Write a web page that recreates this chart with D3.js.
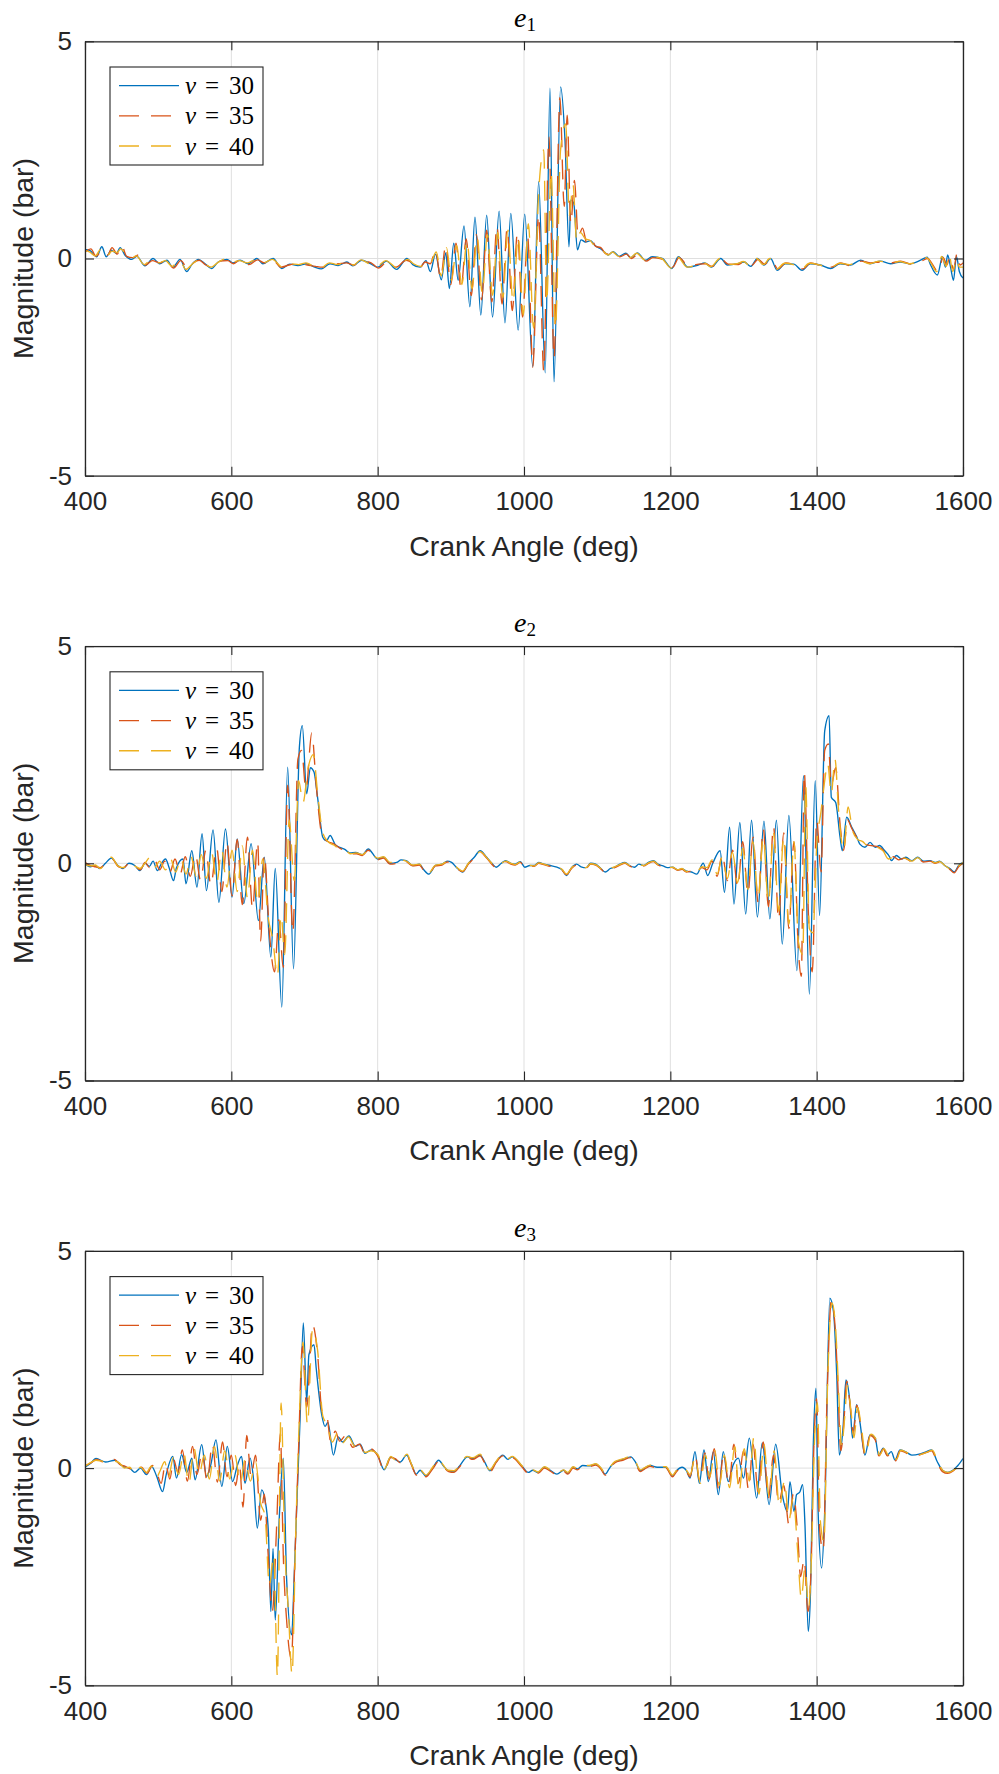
<!DOCTYPE html>
<html><head><meta charset="utf-8">
<script src="https://cdn.jsdelivr.net/npm/d3@7"></script>
<style>
html,body{margin:0;padding:0;background:#fff;}
svg{display:block;}
</style></head><body>
<svg id="chart" width="999" height="1774"></svg>
<script>
// ---------- DATA ([crank angle deg, magnitude bar]) ----------
const angleTicks = [400, 600, 800, 1000, 1200, 1400, 1600];
const magnitudeTicks = [-5, 0, 5];
const nuValues = [30, 35, 40];
const panelIndices = [1, 2, 3];

const e1_nu30 = [[400,0.21],[407,0.18],[416,0.04],[423,0.27],[429,0.04],[436,0.19],[443,0.12],[448,0.25],[455,0.07],[464,-0.02],[471,0.05],[482,-0.17],[493,0],[502,-0.12],[512,-0.04],[520,-0.2],[530,-0.02],[539,-0.3],[546,-0.14],[555,-0.02],[564,-0.12],[573,-0.23],[582,-0.08],[594,-0.02],[602,-0.1],[612,-0.04],[623,-0.12],[635,0],[643,-0.12],[657,0],[669,-0.23],[680,-0.13],[691,-0.16],[703,-0.12],[714,-0.2],[723,-0.24],[735,-0.12],[746,-0.16],[758,-0.08],[766,-0.17],[778,-0.04],[790,-0.12],[800,-0.2],[812,-0.06],[826,-0.25],[840,0],[848,-0.14],[858,-0.2],[866,-0.05],[872,-0.3],[879,0.1],[887,-0.49],[893,0.13],[898,-0.69],[904,0.35],[910,-0.5],[918,0.75],[926,-1.11],[933,0.95],[941,-1.3],[949,1.0],[957,-1.35],[966,1.09],[974,-1.48],[982,1.04],[992,-1.65],[1001,1.02],[1012,-2.49],[1020,1.77],[1029,-2.63],[1035.5,3.92],[1041,-2.84],[1050,3.95],[1056,2.73],[1061.5,0.27],[1064,1.35],[1068,1.27],[1073,0.2],[1078,0.43],[1084,0.38],[1091,0.41],[1097,0.3],[1104,0.23],[1110,0.15],[1115,0.08],[1122,0.16],[1130,0.05],[1139,0.12],[1146,0.02],[1155,0.13],[1166,-0.04],[1175,0.04],[1189,0],[1202,-0.23],[1211,0.04],[1224,-0.2],[1238,-0.15],[1247,-0.1],[1256,-0.2],[1269,0],[1278,-0.15],[1292,-0.12],[1301,-0.08],[1310,-0.18],[1319,0],[1328,-0.15],[1337,0],[1346,-0.27],[1357,-0.12],[1369,-0.13],[1380,-0.27],[1391,-0.12],[1405,-0.15],[1419,-0.23],[1432,-0.12],[1446,-0.15],[1460,-0.04],[1473,-0.12],[1487,-0.06],[1501,-0.12],[1514,-0.08],[1528,-0.12],[1542,-0.04],[1551,0.03],[1555,-0.12],[1565,-0.38],[1572,0.04],[1576,-0.2],[1579,0.08],[1583,-0.2],[1587,-0.5],[1591,0.05],[1595,-0.3],[1600,-0.45]];
const e1_nu35 = [[400,0.15],[408,0.22],[415,0.05],[424,0.2],[431,0.08],[437,0.25],[444,0.1],[450,0.3],[457,0.05],[465,0.02],[473,0.08],[483,-0.15],[492,-0.05],[503,-0.1],[511,-0.02],[521,-0.22],[531,-0.05],[540,-0.22],[548,-0.1],[556,-0.04],[565,-0.15],[574,-0.2],[583,-0.06],[595,-0.05],[603,-0.12],[613,-0.02],[624,-0.14],[636,-0.03],[645,-0.1],[656,-0.02],[668,-0.2],[679,-0.15],[692,-0.12],[704,-0.15],[715,-0.18],[724,-0.2],[736,-0.14],[747,-0.12],[757,-0.1],[767,-0.15],[779,-0.06],[791,-0.1],[801,-0.22],[813,-0.08],[825,-0.2],[839,-0.04],[849,-0.12],[857,-0.22],[865,-0.08],[872,-0.12],[879,0.2],[886,-0.45],[893,0.3],[900,-0.6],[907,0.35],[914,-0.7],[921,0.45],[928,-0.85],[935,0.55],[942,-0.95],[949,0.65],[956,-1.0],[963,0.75],[970,-1.05],[977,0.7],[984,-1.2],[991,0.6],[998,-1.35],[1005,0.5],[1012,-2.5],[1020,1.0],[1027,-2.6],[1034,2.8],[1041,-2.3],[1049,3.7],[1055,1.2],[1059,3.3],[1064,0.8],[1069,1.8],[1074,0.5],[1080,0.7],[1086,0.35],[1092,0.45],[1098,0.28],[1105,0.25],[1111,0.12],[1116,0.1],[1123,0.14],[1131,0.04],[1140,0.1],[1147,0.0],[1156,0.1],[1167,-0.06],[1176,0.02],[1190,-0.02],[1203,-0.2],[1212,0.02],[1225,-0.18],[1239,-0.13],[1248,-0.12],[1257,-0.18],[1270,-0.02],[1279,-0.13],[1293,-0.14],[1302,-0.06],[1311,-0.16],[1320,-0.02],[1329,-0.13],[1338,-0.02],[1347,-0.24],[1358,-0.1],[1370,-0.15],[1381,-0.24],[1392,-0.1],[1406,-0.17],[1420,-0.2],[1433,-0.1],[1447,-0.17],[1461,-0.06],[1474,-0.1],[1488,-0.08],[1502,-0.1],[1515,-0.06],[1529,-0.13],[1543,-0.06],[1552,0.0],[1557,-0.1],[1566,-0.3],[1573,0.02],[1578,-0.15],[1582,0.05],[1587,-0.25],[1592,0.12],[1596,-0.15],[1600,-0.1]];
const e1_nu40 = [[400,0.18],[406,0.15],[414,0.06],[422,0.22],[430,0.06],[437,0.17],[444,0.14],[449,0.22],[456,0.08],[463,0.0],[470,0.06],[481,-0.14],[491,-0.02],[501,-0.1],[510,-0.05],[519,-0.18],[529,-0.04],[538,-0.25],[547,-0.12],[556,-0.03],[563,-0.1],[572,-0.2],[581,-0.1],[593,0.0],[601,-0.08],[611,-0.05],[622,-0.1],[634,-0.02],[644,-0.1],[656,-0.02],[670,-0.2],[681,-0.12],[692,-0.14],[702,-0.1],[713,-0.18],[722,-0.22],[734,-0.1],[745,-0.14],[757,-0.06],[767,-0.15],[777,-0.03],[789,-0.13],[799,-0.18],[811,-0.05],[827,-0.22],[841,-0.02],[849,-0.12],[859,-0.18],[866,-0.06],[872,-0.1],[880,0.15],[887,-0.4],[894,0.25],[901,-0.5],[908,0.3],[915,-0.6],[922,0.4],[929,-0.7],[936,0.5],[943,-0.8],[950,0.55],[957,-0.85],[964,0.6],[971,-0.9],[978,0.65],[985,-1.0],[992,0.5],[999,-1.3],[1006,0.8],[1013,-1.6],[1020,1.5],[1027,2.5],[1031,-1.0],[1037,2.0],[1043,-1.6],[1050,2.5],[1057,3.1],[1062,1.0],[1067,1.7],[1072,0.4],[1077,0.6],[1084,0.45],[1090,0.42],[1096,0.3],[1103,0.24],[1109,0.16],[1115,0.08],[1121,0.15],[1129,0.05],[1138,0.12],[1145,0.02],[1154,0.12],[1165,-0.03],[1174,0.04],[1188,0.0],[1201,-0.22],[1210,0.03],[1223,-0.2],[1237,-0.14],[1246,-0.1],[1255,-0.19],[1268,0.0],[1277,-0.14],[1291,-0.12],[1300,-0.07],[1309,-0.17],[1318,0.0],[1327,-0.14],[1336,0.0],[1345,-0.25],[1356,-0.11],[1368,-0.14],[1379,-0.25],[1390,-0.11],[1404,-0.15],[1418,-0.22],[1431,-0.11],[1445,-0.14],[1459,-0.05],[1472,-0.12],[1486,-0.06],[1500,-0.11],[1513,-0.07],[1527,-0.12],[1541,-0.05],[1550,0.02],[1556,-0.1],[1564,-0.3],[1571,0.05],[1577,-0.18],[1581,0.1],[1586,-0.3],[1591,0.0],[1595,-0.2],[1600,-0.2]];

const e2_nu30 = [[400,0.0],[407,-0.08],[414,-0.05],[420,-0.12],[428,0.0],[436,0.12],[445,-0.05],[452,-0.12],[460,0.0],[468,-0.05],[475,-0.17],[482,0.0],[488,-0.07],[493,0.05],[499,-0.17],[504,-0.02],[510,0.1],[515,-0.1],[521,-0.4],[525,-0.1],[534,0.1],[538,-0.47],[546,0.29],[553,-0.55],[560,0.68],[566,-0.63],[575,0.77],[583,-0.9],[592,0.79],[601,-0.78],[608,0.56],[617,-0.93],[627,0.45],[637,-1.32],[645,0.14],[654,-2.16],[660,-0.12],[669,-3.31],[677,2.21],[685,-2.43],[693,2.67],[697,3.17],[703,1.6],[708,2.2],[713,2.1],[718,1.5],[725,0.6],[730,0.52],[735,0.64],[742,0.43],[749,0.36],[755,0.32],[762,0.24],[770,0.25],[779,0.2],[787,0.33],[800,0.1],[808,0.14],[817,0.0],[826,0.02],[832,0.08],[839,0.06],[848,-0.05],[857,-0.02],[863,-0.15],[870,-0.25],[879,-0.05],[888,-0.02],[895,0.05],[901,0.02],[908,-0.1],[916,-0.2],[924,0.0],[932,0.14],[940,0.29],[949,0.14],[956,0.0],[962,-0.09],[969,0.0],[975,0.06],[982,0.0],[988,-0.02],[995,0.04],[1001,-0.09],[1008,-0.05],[1014,-0.05],[1020,0.02],[1027,-0.02],[1036,-0.05],[1045,-0.09],[1052,-0.15],[1058,-0.28],[1065,-0.1],[1072,-0.02],[1078,-0.08],[1085,-0.1],[1091,0.0],[1098,-0.02],[1105,-0.12],[1111,-0.2],[1118,-0.12],[1124,-0.09],[1131,-0.02],[1138,0.02],[1144,-0.05],[1151,-0.09],[1157,-0.02],[1164,-0.05],[1170,0.02],[1177,0.06],[1183,-0.02],[1190,-0.06],[1196,-0.1],[1203,-0.09],[1210,-0.15],[1216,-0.13],[1222,-0.18],[1229,-0.2],[1236,-0.25],[1245,0.0],[1251,-0.28],[1258,0.0],[1268,0.29],[1274,-0.67],[1281,0.83],[1287,-0.94],[1295,0.94],[1303,-1.17],[1311,0.99],[1319,-1.24],[1328,0.97],[1336,-1.28],[1345,0.99],[1353,-1.86],[1362,1.1],[1373,-2.47],[1382,2.02],[1390,-3.01],[1398,1.9],[1404,-1.2],[1411,3.05],[1417,3.4],[1420,1.52],[1426,1.4],[1432,0.6],[1435,0.29],[1441,1.06],[1448,0.83],[1455,0.6],[1459,0.44],[1466,0.37],[1473,0.48],[1480,0.37],[1486,0.41],[1493,0.29],[1500,0.14],[1502,0.06],[1509,0.18],[1516,0.1],[1522,0.14],[1530,0.06],[1538,0.14],[1546,0.05],[1555,0.06],[1562,0.02],[1568,0.05],[1575,-0.05],[1582,-0.12],[1588,-0.2],[1594,-0.05],[1600,0.02]];
const e2_nu35 = [[400,0.02],[407,-0.05],[414,-0.08],[421,-0.1],[429,0.02],[437,0.1],[446,-0.08],[453,-0.1],[461,0.02],[469,-0.08],[476,-0.15],[482,0.02],[488,-0.1],[495,0.08],[502,-0.15],[509,0.05],[516,-0.2],[523,0.1],[530,-0.25],[537,0.15],[544,-0.3],[551,0.2],[558,-0.4],[565,0.3],[572,-0.5],[580,0.35],[587,-0.65],[594,0.5],[601,-0.75],[608,0.55],[615,-0.95],[622,0.6],[629,-1.05],[636,0.5],[640,-1.8],[645,0.2],[652,-1.6],[659,-2.5],[665,-1.3],[671,-2.4],[677,1.8],[684,-1.6],[691,2.4],[696,2.6],[702,1.7],[710,3.0],[716,1.8],[724,0.65],[732,0.5],[740,0.45],[750,0.33],[757,0.3],[763,0.22],[771,0.22],[779,0.18],[787,0.3],[800,0.08],[808,0.12],[817,-0.02],[826,0.0],[832,0.06],[839,0.04],[848,-0.06],[857,-0.04],[863,-0.16],[870,-0.24],[879,-0.06],[888,-0.04],[895,0.03],[901,0.0],[908,-0.11],[916,-0.19],[924,-0.02],[932,0.12],[940,0.26],[949,0.12],[956,-0.02],[962,-0.1],[969,-0.02],[975,0.04],[982,-0.02],[988,-0.04],[995,0.02],[1001,-0.1],[1008,-0.06],[1014,-0.07],[1020,0.0],[1027,-0.03],[1036,-0.07],[1045,-0.1],[1052,-0.16],[1058,-0.26],[1065,-0.12],[1072,-0.04],[1078,-0.09],[1085,-0.11],[1091,-0.02],[1098,-0.04],[1105,-0.13],[1111,-0.21],[1118,-0.13],[1124,-0.1],[1131,-0.04],[1138,0.0],[1144,-0.06],[1151,-0.1],[1157,-0.04],[1164,-0.06],[1170,0.0],[1177,0.04],[1183,-0.04],[1190,-0.08],[1196,-0.12],[1203,-0.1],[1210,-0.16],[1216,-0.14],[1222,-0.2],[1229,-0.18],[1236,-0.22],[1243,-0.1],[1250,-0.15],[1257,0.05],[1264,-0.3],[1271,0.2],[1278,-0.4],[1285,0.3],[1292,-0.55],[1299,0.5],[1306,-0.7],[1313,0.6],[1320,-0.9],[1327,0.8],[1334,-1.0],[1341,0.85],[1348,-1.3],[1355,0.7],[1362,-1.5],[1369,0.5],[1375,-2.0],[1379,-2.6],[1383,2.1],[1389,-1.3],[1394,-2.5],[1400,1.0],[1406,-0.2],[1411,2.6],[1416,2.75],[1420,1.8],[1426,2.2],[1432,0.9],[1437,0.3],[1442,1.0],[1448,0.8],[1455,0.6],[1462,0.5],[1470,0.42],[1477,0.4],[1484,0.38],[1491,0.3],[1498,0.12],[1505,0.15],[1512,0.08],[1520,0.12],[1530,0.04],[1538,0.12],[1546,0.03],[1555,0.05],[1562,0.0],[1568,0.03],[1575,-0.06],[1582,-0.14],[1588,-0.22],[1594,-0.08],[1600,0.0]];
const e2_nu40 = [[400,-0.02],[407,-0.06],[414,-0.04],[421,-0.12],[428,0.02],[436,0.14],[445,-0.06],[452,-0.1],[460,0.02],[468,-0.06],[475,-0.12],[482,0.0],[488,0.12],[495,-0.1],[502,0.05],[510,-0.15],[517,0.1],[524,-0.2],[531,0.12],[538,-0.25],[545,0.15],[552,-0.3],[559,0.2],[566,-0.35],[573,0.25],[580,-0.45],[587,0.3],[594,-0.55],[601,0.3],[608,-0.65],[615,0.4],[622,-0.8],[629,0.3],[636,-0.9],[643,0.1],[650,-1.2],[657,-1.8],[663,-2.6],[668,-1.2],[673,-2.1],[679,1.0],[686,-0.4],[692,1.9],[698,1.4],[705,2.2],[712,2.5],[718,1.6],[725,0.7],[732,0.5],[740,0.42],[750,0.3],[757,0.28],[763,0.22],[771,0.24],[779,0.2],[787,0.3],[800,0.12],[808,0.15],[817,0.02],[826,0.03],[832,0.08],[839,0.05],[848,-0.04],[857,-0.02],[863,-0.14],[870,-0.22],[879,-0.04],[888,-0.02],[895,0.04],[901,0.02],[908,-0.09],[916,-0.18],[924,0.0],[932,0.13],[940,0.27],[949,0.13],[956,0.0],[962,-0.08],[969,0.0],[975,0.05],[982,0.0],[988,-0.03],[995,0.03],[1001,-0.08],[1008,-0.05],[1014,-0.06],[1020,0.01],[1027,-0.02],[1036,-0.06],[1045,-0.08],[1052,-0.14],[1058,-0.25],[1065,-0.1],[1072,-0.03],[1078,-0.08],[1085,-0.1],[1091,-0.01],[1098,-0.03],[1105,-0.12],[1111,-0.19],[1118,-0.12],[1124,-0.08],[1131,-0.03],[1138,0.01],[1144,-0.05],[1151,-0.09],[1157,-0.03],[1164,-0.05],[1170,0.01],[1177,0.05],[1183,-0.03],[1190,-0.07],[1196,-0.11],[1203,-0.09],[1210,-0.15],[1216,-0.12],[1222,-0.19],[1229,-0.16],[1236,-0.2],[1243,-0.08],[1250,-0.1],[1257,0.08],[1264,-0.25],[1271,0.15],[1278,-0.35],[1285,0.25],[1292,-0.45],[1299,0.35],[1306,-0.6],[1313,0.5],[1320,-0.8],[1327,0.6],[1334,-0.9],[1341,0.7],[1348,-1.1],[1355,0.6],[1362,-1.4],[1369,0.5],[1375,-1.8],[1381,-2.1],[1385,1.8],[1390,-1.5],[1395,-1.6],[1400,0.4],[1406,1.2],[1411,1.9],[1415,2.3],[1420,1.6],[1425,2.4],[1430,1.2],[1437,0.3],[1443,1.3],[1449,0.75],[1456,0.55],[1463,0.5],[1470,0.4],[1477,0.42],[1484,0.36],[1491,0.28],[1498,0.1],[1505,0.14],[1512,0.1],[1520,0.12],[1530,0.05],[1538,0.13],[1546,0.04],[1555,0.06],[1562,0.01],[1568,0.04],[1575,-0.05],[1582,-0.13],[1588,-0.18],[1594,-0.06],[1600,0.02]];

const e3_nu30 = [[400,0.02],[407,0.1],[415,0.22],[428,0.14],[441,0.18],[447,0.1],[454,0.02],[461,0.0],[468,-0.1],[476,0.0],[484,-0.15],[491,0.04],[498,-0.19],[506,-0.54],[511,-0.15],[520,0.27],[525,-0.23],[532,0.31],[539,-0.1],[546,0.23],[550.5,-0.27],[559.5,0.54],[566,-0.19],[572,0.08],[579,0.65],[587,-0.42],[594.5,0.5],[601.7,-0.31],[608,0.05],[614,0.27],[618.7,-0.35],[625.6,0.23],[630,-0.2],[635.5,-1.38],[641.5,-0.5],[646,-0.73],[650.6,-1.45],[654,-3.3],[657,-1.85],[660,-3.5],[665.5,-1.15],[671,0.23],[675.5,-2.53],[682.4,-3.84],[686,-2.46],[690,-0.61],[694,1.15],[698.4,3.34],[703,1.53],[706,2.61],[713,2.84],[716,2.3],[723.5,1.23],[728,0.96],[732,1.05],[739.5,0.3],[746,0.72],[752,0.6],[760.8,0.74],[769.6,0.5],[776,0.55],[782.7,0.34],[791,0.42],[800,0.3],[808.9,-0.04],[817.7,0.26],[824,0.2],[830.8,0.14],[839.5,0.3],[846,0.1],[852.7,-0.14],[858,-0.05],[865.8,-0.18],[875,0.0],[883.4,0.18],[890,0.05],[896.5,-0.06],[904,-0.08],[912,0.05],[922.7,0.26],[930,0.22],[940,0.3],[946,0.15],[953.4,-0.06],[962,0.15],[971,0.3],[978,0.2],[984,0.26],[997,0.05],[1005.9,-0.1],[1012,-0.05],[1019,-0.1],[1027.7,0.02],[1036,-0.05],[1045,-0.14],[1054,-0.05],[1060,-0.12],[1067,0.02],[1073,-0.02],[1080,0.06],[1089,0.05],[1098,0.09],[1105,0.0],[1110.8,-0.14],[1117,0.0],[1124,0.14],[1135,0.2],[1146,0.26],[1152,0.15],[1159,-0.06],[1165,0.0],[1172.4,0.06],[1182,0.02],[1194,0.02],[1202.8,-0.18],[1209,-0.05],[1216,0.02],[1222,-0.06],[1227,-0.23],[1233.7,0.38],[1239.7,-0.35],[1246,0.42],[1252,-0.31],[1258.7,0.38],[1265.6,-0.61],[1272.4,0.38],[1279,-0.31],[1286,0.08],[1293,0.23],[1300,-0.23],[1308,0.69],[1318,-0.69],[1325.6,0.58],[1335,-0.84],[1344,0.55],[1353,-0.61],[1360,-1.0],[1363.5,-0.31],[1369,-1.0],[1372.5,-0.61],[1377,-0.55],[1380.8,-0.38],[1384,-1.3],[1388.5,-3.76],[1391.6,-2.84],[1395.4,0.54],[1399,1.84],[1402,-1.0],[1406.8,-2.3],[1411,-1.0],[1418,3.91],[1423,3.6],[1427.4,2.15],[1431,0.3],[1436,0.92],[1440,2.03],[1445.7,1.46],[1449,0.69],[1454.6,1.46],[1459,1.07],[1466,0.3],[1473,0.77],[1480,0.69],[1484.7,0.3],[1491,0.46],[1496.5,0.3],[1502,0.38],[1507,0.19],[1514,0.42],[1521,0.38],[1530,0.3],[1540,0.32],[1550,0.38],[1557,0.42],[1565,0.14],[1572,-0.05],[1579,-0.1],[1586,-0.05],[1593,0.06],[1600,0.22]];
const e3_nu35 = [[400,0.05],[408,0.12],[416,0.2],[428,0.12],[440,0.2],[448,0.08],[455,0.04],[462,-0.02],[469,-0.08],[477,0.02],[485,-0.12],[492,0.06],[499,-0.15],[504,-0.35],[510,0.1],[516,-0.25],[521,0.2],[527,-0.1],[533,0.42],[540,-0.3],[547,0.5],[553,-0.15],[560,0.35],[567,-0.3],[574,0.55],[581,-0.32],[588,0.6],[594,-0.2],[600,0.3],[606,-0.4],[611,0.1],[616,-0.9],[621,0.75],[627,-0.2],[633,0.3],[640,-1.2],[645,-0.6],[650,-1.9],[656,-3.3],[662,-1.3],[667,0.8],[671,-2.0],[676,-3.6],[682,-4.4],[687,-2.0],[692,0.5],[697,2.8],[703,1.4],[711,3.3],[718,2.6],[724,1.3],[730,1.25],[736,0.6],[742,0.85],[748,0.62],[757,0.76],[766,0.48],[775,0.55],[783,0.32],[791,0.44],[800,0.28],[809,-0.06],[818,0.24],[824,0.22],[831,0.12],[840,0.28],[846,0.08],[853,-0.16],[858,-0.07],[866,-0.2],[875,-0.02],[884,0.16],[890,0.03],[897,-0.08],[904,-0.1],[912,0.03],[923,0.24],[930,0.2],[940,0.28],[946,0.13],[954,-0.08],[962,0.13],[971,0.28],[978,0.18],[984,0.24],[997,0.03],[1006,-0.12],[1012,-0.07],[1019,-0.12],[1028,0.0],[1036,-0.07],[1045,-0.16],[1054,-0.07],[1060,-0.14],[1067,0.0],[1073,-0.04],[1080,0.04],[1089,0.03],[1098,0.07],[1105,-0.02],[1111,-0.16],[1117,-0.02],[1124,0.12],[1135,0.18],[1146,0.24],[1152,0.13],[1159,-0.08],[1165,-0.02],[1172,0.04],[1182,0.0],[1194,0.0],[1203,-0.2],[1209,-0.07],[1216,0.0],[1222,-0.08],[1227,-0.2],[1234,0.3],[1240,-0.3],[1247,0.35],[1253,-0.25],[1260,0.45],[1266,-0.5],[1273,0.35],[1280,-0.4],[1287,0.55],[1293,-0.35],[1300,0.4],[1307,-0.5],[1313,0.55],[1320,-0.55],[1327,0.6],[1334,-0.7],[1341,0.3],[1348,-0.8],[1355,-0.4],[1362,-1.3],[1368,-0.6],[1374,-1.5],[1378,-2.5],[1383,-2.1],[1388,-3.3],[1392,-2.5],[1396,0.4],[1400,1.6],[1404,-1.4],[1409,-1.9],[1414,1.5],[1420,3.85],[1425,3.3],[1429,1.9],[1433,0.4],[1437,1.0],[1441,2.0],[1446,1.4],[1450,0.8],[1455,1.45],[1460,1.0],[1466,0.3],[1473,0.75],[1480,0.65],[1485,0.28],[1491,0.44],[1497,0.28],[1502,0.36],[1508,0.17],[1514,0.4],[1521,0.36],[1530,0.28],[1540,0.3],[1550,0.36],[1557,0.4],[1565,0.12],[1572,-0.08],[1579,-0.12],[1586,-0.07],[1593,0.04],[1600,0.2]];
const e3_nu40 = [[400,0.04],[407,0.12],[415,0.18],[427,0.15],[440,0.16],[447,0.12],[454,0.0],[461,0.02],[468,-0.12],[476,0.02],[484,-0.1],[491,0.05],[498,-0.2],[503,-0.05],[509,0.15],[514,-0.2],[521,0.25],[528,-0.15],[535,0.35],[542,-0.35],[549,0.45],[556,-0.15],[563,0.3],[570,-0.25],[577,0.5],[584,-0.3],[591,0.4],[598,-0.25],[605,0.3],[612,-0.35],[619,0.2],[626,-0.3],[633,0.15],[640,-0.8],[646,-1.1],[652,-2.7],[658,-2.0],[663,-4.8],[668,1.5],[673,-1.8],[678,-3.3],[683,-4.75],[688,-1.5],[693,1.2],[698,2.9],[704,1.0],[711,3.2],[718,2.7],[725,1.2],[731,1.0],[738,0.6],[745,0.8],[752,0.58],[760,0.72],[769,0.5],[776,0.52],[783,0.36],[791,0.4],[800,0.32],[809,-0.02],[818,0.27],[824,0.18],[831,0.15],[840,0.32],[846,0.1],[853,-0.12],[858,-0.04],[866,-0.16],[875,0.02],[883,0.2],[890,0.06],[896,-0.05],[904,-0.06],[912,0.06],[922,0.27],[930,0.24],[940,0.32],[946,0.16],[953,-0.04],[962,0.16],[971,0.32],[978,0.22],[984,0.27],[997,0.06],[1006,-0.08],[1012,-0.04],[1019,-0.09],[1028,0.03],[1036,-0.04],[1045,-0.12],[1054,-0.04],[1060,-0.1],[1067,0.03],[1073,-0.01],[1080,0.07],[1089,0.06],[1098,0.1],[1105,0.01],[1111,-0.12],[1117,0.01],[1124,0.15],[1135,0.21],[1146,0.27],[1152,0.16],[1159,-0.04],[1165,0.01],[1172,0.07],[1182,0.03],[1194,0.03],[1203,-0.16],[1209,-0.04],[1216,0.03],[1222,-0.05],[1227,-0.15],[1234,0.25],[1241,-0.35],[1248,0.3],[1254,-0.2],[1261,0.4],[1267,-0.4],[1274,0.3],[1281,-0.45],[1288,0.5],[1294,-0.55],[1301,0.45],[1308,-0.3],[1314,0.7],[1321,-0.6],[1328,0.55],[1335,-0.65],[1342,0.4],[1349,-0.9],[1356,-0.3],[1362,-1.2],[1368,-0.7],[1374,-1.9],[1379,-3.0],[1384,-2.3],[1389,-3.2],[1393,-2.0],[1397,0.6],[1401,1.5],[1405,-1.2],[1410,-1.7],[1415,2.0],[1421,3.8],[1426,3.2],[1430,1.8],[1434,0.5],[1438,1.1],[1442,1.9],[1447,1.3],[1451,0.7],[1456,1.4],[1461,0.95],[1467,0.3],[1474,0.78],[1481,0.67],[1486,0.3],[1492,0.45],[1498,0.3],[1503,0.37],[1509,0.2],[1515,0.41],[1522,0.37],[1531,0.29],[1541,0.31],[1551,0.37],[1558,0.41],[1566,0.13],[1573,-0.06],[1580,-0.1],[1587,-0.05],[1594,0.05],[1600,0.21]];

// ---------- STYLE / LAYOUT ----------
const panelSeries = [[e1_nu30, e1_nu35, e1_nu40], [e2_nu30, e2_nu35, e2_nu40], [e3_nu30, e3_nu35, e3_nu40]];
const colors = ["#0072BD", "#D95319", "#EDB120"];
const dashArr = [null, "20,12", "20,12"];
const L = 85, R = 963, PH = 434.4;
const tops = [41.3, 646.1, 1250.9];
const ink = "#262626";
const sans = "'Liberation Sans', Arial, Helvetica, sans-serif";
const serif = "'Liberation Serif', 'Times New Roman', serif";

const svg = d3.select("#chart");
const x = d3.scaleLinear().domain([angleTicks[0], angleTicks[angleTicks.length - 1]]).range([L, R]);
const y = d3.scaleLinear().domain([magnitudeTicks[0], magnitudeTicks[magnitudeTicks.length - 1]]).range([PH, 0]);
const line = d3.line().x(d => x(d[0])).y(d => y(d[1])).curve(d3.curveMonotoneX);

svg.append("defs").append("clipPath").attr("id", "plotclip")
  .append("rect").attr("x", L).attr("y", 0).attr("width", R - L).attr("height", PH);

panelIndices.forEach((pi, i) => {
  const g = svg.append("g").attr("transform", `translate(0,${tops[i]})`);

  // grid
  const grid = g.append("g");
  grid.selectAll("line.vg").data(angleTicks).join("line")
    .attr("x1", d => x(d)).attr("x2", d => x(d)).attr("y1", 0).attr("y2", PH)
    .attr("stroke", "#dfdfdf").attr("stroke-width", 1);
  grid.selectAll("line.hg").data(magnitudeTicks).join("line")
    .attr("x1", L).attr("x2", R).attr("y1", d => y(d)).attr("y2", d => y(d))
    .attr("stroke", "#dfdfdf").attr("stroke-width", 1);

  // series
  const lines = g.append("g").attr("clip-path", "url(#plotclip)");
  panelSeries[i].forEach((s, k) => {
    lines.append("path").datum(s).attr("d", line)
      .attr("fill", "none").attr("stroke", colors[k]).attr("stroke-width", 1.35)
      .attr("stroke-linejoin", "round")
      .attr("stroke-dasharray", dashArr[k]);
  });

  // axes
  const styleAxis = sel => {
    sel.select(".domain").attr("stroke", ink).attr("stroke-width", 1.3);
    sel.selectAll(".tick line").attr("stroke", ink).attr("stroke-width", 1.1);
    sel.selectAll(".tick text").attr("fill", ink).attr("font-family", sans).attr("font-size", 26);
  };
  g.append("g").attr("transform", `translate(0,${PH})`)
    .call(d3.axisBottom(x).tickValues(angleTicks).tickSizeInner(-9).tickSizeOuter(0).tickPadding(16).tickFormat(d => String(d)))
    .call(styleAxis);
  g.append("g")
    .call(d3.axisTop(x).tickValues(angleTicks).tickSizeInner(-9).tickSizeOuter(0).tickFormat(""))
    .call(styleAxis);
  g.append("g").attr("transform", `translate(${L},0)`)
    .call(d3.axisLeft(y).tickValues(magnitudeTicks).tickSizeInner(-9).tickSizeOuter(0).tickPadding(13).tickFormat(d => String(d)))
    .call(styleAxis);
  g.append("g").attr("transform", `translate(${R},0)`)
    .call(d3.axisRight(y).tickValues(magnitudeTicks).tickSizeInner(-9).tickSizeOuter(0).tickFormat(""))
    .call(styleAxis);

  // axis titles
  g.append("text").attr("x", (L + R) / 2).attr("y", PH + 80)
    .attr("text-anchor", "middle").attr("font-family", sans).attr("font-size", 28.5).attr("fill", ink)
    .text("Crank Angle (deg)");
  g.append("text").attr("transform", `translate(33,${PH / 2}) rotate(-90)`)
    .attr("text-anchor", "middle").attr("font-family", sans).attr("font-size", 28.5).attr("fill", ink)
    .text("Magnitude (bar)");

  // title e_i
  const t = g.append("text").attr("x", (L + R) / 2 - 10).attr("y", -14)
    .attr("font-family", serif).attr("font-size", 28).attr("fill", "#000");
  t.append("tspan").attr("font-style", "italic").text("e");
  t.append("tspan").attr("font-size", 19).attr("dy", 4).text(String(pi));

  // legend
  const lg = g.append("g").attr("transform", `translate(${L + 25},25.7)`);
  lg.append("rect").attr("x", 0).attr("y", 0).attr("width", 153).attr("height", 98)
    .attr("fill", "#fff").attr("stroke", ink).attr("stroke-width", 1.1);
  nuValues.forEach((nu, k) => {
    const cy = 18.6 + k * 30.2;
    lg.append("line").attr("x1", 9).attr("x2", 69).attr("y1", cy).attr("y2", cy)
      .attr("stroke", colors[k]).attr("stroke-width", 1.35).attr("stroke-dasharray", dashArr[k]);
    const tx = lg.append("text").attr("y", cy + 8.5).attr("font-family", serif).attr("font-size", 25).attr("fill", "#000");
    tx.append("tspan").attr("x", 75).attr("font-style", "italic").text("ν");
    tx.append("tspan").attr("x", 95).text("=");
    tx.append("tspan").attr("x", 119).text(String(nu));
  });
});
</script>
</body></html>
